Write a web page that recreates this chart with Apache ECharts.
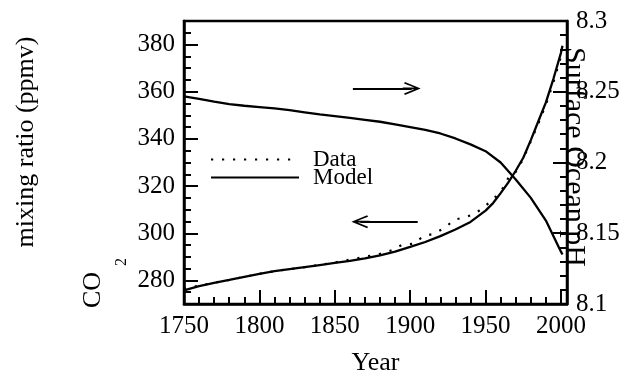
<!DOCTYPE html>
<html>
<head>
<meta charset="utf-8">
<script src="https://cdn.jsdelivr.net/npm/echarts@6/dist/echarts.min.js"></script>
<style>html,body{margin:0;padding:0;background:#fff;}#c{width:626px;height:381px;}</style>
</head>
<body>
<div id="c"></div>
<script>
// ---- data ----
const modelYears = [1750,1760,1770,1780,1790,1800,1810,1820,1830,1840,1850,1860,1870,1880,1890,1900,1910,1920,1930,1940,1950,1955,1960,1965,1970,1975,1980,1985,1990,1995,2000,2001];
const modelCO2   = [275.8,277.6,279.0,280.2,281.5,282.8,283.9,284.8,285.6,286.5,287.4,288.3,289.3,290.6,292.2,294.2,296.3,298.8,301.6,304.8,309.6,312.8,317.0,321.5,326.5,332.0,339.5,347.5,355.5,365.5,376.5,379.5];
const dataYears  = [1750,1760,1770,1780,1790,1800,1810,1820,1830,1840,1850,1860,1870,1880,1888,1895,1902,1909,1916,1924,1929,1936,1943,1950,1957,1962,1966,1970,1975,1980,1985,1990,1995,2000];
const dataCO2    = [276.5,277.8,279.0,280.2,281.5,282.8,283.9,284.8,285.6,286.6,287.6,288.8,290.0,291.3,292.8,295.2,295.5,298.8,299.8,302.8,305.7,306.7,308.3,311.6,315.7,319.5,324.7,326.0,331.5,339.0,346.5,354.5,364.0,375.0];
const phYears    = [1750,1760,1770,1780,1790,1800,1810,1820,1830,1840,1850,1860,1870,1880,1890,1900,1910,1920,1930,1940,1950,1960,1970,1980,1990,2000,2001];
const phModel    = [8.2468,8.2450,8.2430,8.2412,8.2401,8.2392,8.2383,8.2370,8.2355,8.2340,8.2328,8.2315,8.2302,8.2288,8.2270,8.2250,8.2230,8.2205,8.2170,8.2128,8.2080,8.2000,8.1880,8.1750,8.1590,8.1370,8.1350];
const yearTicks  = [1750,1800,1850,1900,1950,2000];
const co2Ticks   = [280,300,320,340,360,380];
const phTicks    = [8.1,8.15,8.2,8.25,8.3];
const phMajorTicks = [8.15,8.2,8.25];
// annotation arrows (data coords): [x0,y0,x1,y1]
const arrowRight = [1862, 361.4, 1901, 361.4];
const arrowLeft  = [1905, 304.9, 1867, 304.9];

const zip = (a, b) => a.map((v, i) => [v, b[i]]);
const FONT = '"Liberation Serif", "Times New Roman", serif';
const BLACK = '#000';
const tickFont = {fontFamily: FONT, fontSize: 25, color: BLACK};
const arrowPath = 'path://M6,0 L12,14 L10.6,14.8 L6.8,5.6 L6.8,16 L5.2,16 L5.2,5.6 L1.4,14.8 L0,14 Z';
const hiddenSymbol = {color: 'rgba(0,0,0,0)', borderColor: 'rgba(0,0,0,0)', borderWidth: 0, opacity: 0};

const chart = echarts.init(document.getElementById('c'), null, {renderer: 'canvas'});
const option = {
  animation: false,
  backgroundColor: '#fff',
  grid: {left: 184, right: 59, top: 21, bottom: 71, show: true, borderColor: BLACK, borderWidth: 2.5, backgroundColor: 'transparent'},
  legend: [
    {data: ['Data'], left: 210, top: 148, itemWidth: 88, itemHeight: 14, padding: 0, itemStyle: hiddenSymbol,
     textStyle: {fontFamily: FONT, fontSize: 23, color: BLACK, lineHeight: 20, padding: [0, 0, 0, 9]}},
    {data: ['Model'], left: 210, top: 166, itemWidth: 88, itemHeight: 14, padding: 0, itemStyle: hiddenSymbol,
     textStyle: {fontFamily: FONT, fontSize: 23, color: BLACK, lineHeight: 20, padding: [0, 0, 0, 9]}}
  ],
  xAxis: [
    {type: 'value', min: 1750, max: 2004, position: 'bottom',
     name: 'Year', nameLocation: 'middle', nameGap: 46,
     nameTextStyle: {fontFamily: FONT, fontSize: 26, color: BLACK},
     axisLine: {show: true, lineStyle: {color: BLACK, width: 2.5}},
     axisTick: {show: true, inside: true, length: 14, lineStyle: {color: BLACK, width: 2}, customValues: yearTicks},
     axisLabel: Object.assign({margin: 10, customValues: yearTicks, formatter: v => String(v)}, tickFont),
     splitLine: {show: false}},
    {type: 'value', min: 1750, max: 2004, interval: 10, position: 'bottom',
     axisLine: {show: false},
     axisTick: {show: true, inside: true, length: 7, lineStyle: {color: BLACK, width: 2}},
     axisLabel: {show: false}, splitLine: {show: false}}
  ],
  yAxis: [
    {type: 'value', min: 270, max: 390, position: 'left',
     axisLine: {show: true, lineStyle: {color: BLACK, width: 2.5}},
     axisTick: {show: true, inside: true, length: 14, lineStyle: {color: BLACK, width: 2}, customValues: co2Ticks},
     axisLabel: Object.assign({margin: 9, customValues: co2Ticks, formatter: v => String(v)}, tickFont),
     splitLine: {show: false}},
    {type: 'value', min: 8.1, max: 8.3, position: 'right',
     axisLine: {show: true, lineStyle: {color: BLACK, width: 2.5}},
     axisTick: {show: true, inside: true, length: 14, lineStyle: {color: BLACK, width: 2}, customValues: phMajorTicks},
     axisLabel: Object.assign({margin: 9, customValues: phTicks, formatter: v => String(+v.toFixed(2))}, tickFont),
     splitLine: {show: false}},
    {type: 'value', min: 270, max: 390, interval: 5, position: 'left',
     axisLine: {show: false},
     axisTick: {show: true, inside: true, length: 7, lineStyle: {color: BLACK, width: 2}},
     axisLabel: {show: false}, splitLine: {show: false}},
    {type: 'value', min: 8.1, max: 8.3, interval: 0.01, position: 'right',
     axisLine: {show: false},
     axisTick: {show: true, inside: true, length: 7, lineStyle: {color: BLACK, width: 2}},
     axisLabel: {show: false}, splitLine: {show: false}}
  ],
  series: [
    {name: 'Data', type: 'line', xAxisIndex: 0, yAxisIndex: 0, data: zip(dataYears, dataCO2),
     showSymbol: false, symbol: 'none', lineStyle: {color: BLACK, width: 2.2, type: [2.2, 8.8]}, itemStyle: {color: BLACK}, z: 3},
    {name: 'Model', type: 'line', xAxisIndex: 0, yAxisIndex: 0, data: zip(modelYears, modelCO2),
     showSymbol: false, symbol: 'none', lineStyle: {color: BLACK, width: 2.3}, itemStyle: {color: BLACK}, z: 3,
     markLine: {silent: true, symbol: ['none', arrowPath], symbolSize: [13, 18], label: {show: false},
       lineStyle: {color: BLACK, width: 2, type: 'solid'},
       data: [
         [{coord: [arrowRight[0], arrowRight[1]]}, {coord: [arrowRight[2], arrowRight[3]]}],
         [{coord: [arrowLeft[0], arrowLeft[1]]}, {coord: [arrowLeft[2], arrowLeft[3]]}]
       ]}},
    {name: 'Model', type: 'line', xAxisIndex: 0, yAxisIndex: 1, data: zip(phYears, phModel),
     showSymbol: false, symbol: 'none', lineStyle: {color: BLACK, width: 2.3}, itemStyle: {color: BLACK}, z: 3}
  ],
  graphic: [
    {type: 'text', x: 26, y: 142, rotation: Math.PI / 2,
     style: {text: 'mixing ratio (ppmv)', font: '26px "Liberation Serif"', fill: BLACK, align: 'center', verticalAlign: 'middle'}},
    {type: 'text', x: 93, y: 290, rotation: Math.PI / 2,
     style: {text: 'CO', font: '26px "Liberation Serif"', fill: BLACK, align: 'center', verticalAlign: 'middle'}},
    {type: 'text', x: 122, y: 262, rotation: Math.PI / 2,
     style: {text: '2', font: '16px "Liberation Serif"', fill: BLACK, align: 'center', verticalAlign: 'middle'}},
    {type: 'text', x: 574, y: 157, rotation: -Math.PI / 2, z: 10,
     style: {text: 'Surface Ocean pH', font: '30px "Liberation Serif"', fill: BLACK, align: 'center', verticalAlign: 'middle'}}
  ]
};
chart.setOption(option);
</script>
</body>
</html>
